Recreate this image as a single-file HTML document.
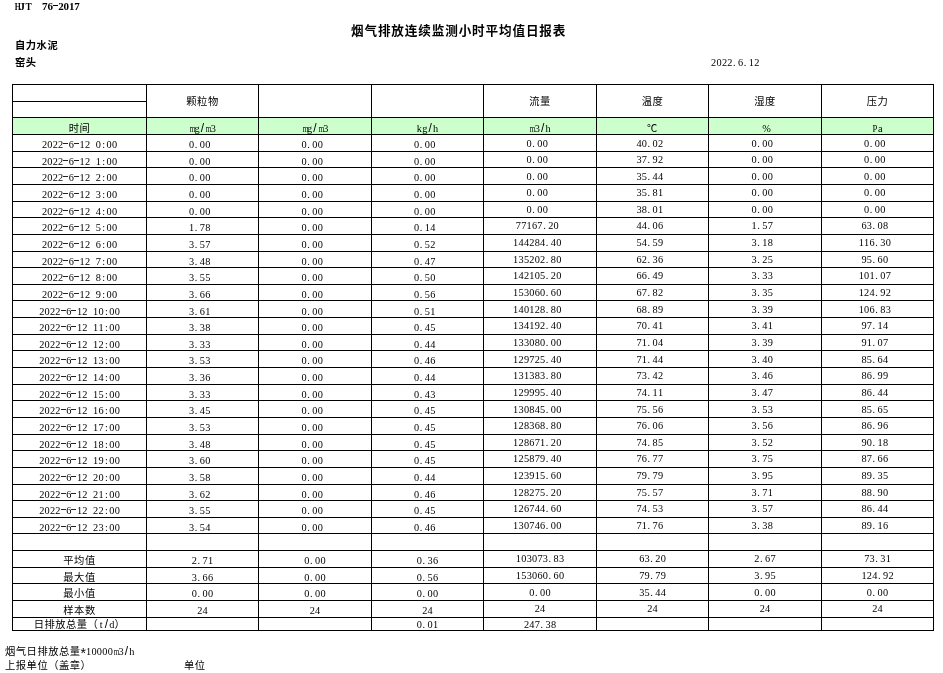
<!DOCTYPE html>
<html><head><meta charset="utf-8"><title>report</title><style>
*{margin:0;padding:0}
html,body{width:943px;height:673px;overflow:hidden;background:#fff}
body{position:relative;font-family:"Liberation Sans","Noto Sans CJK SC",sans-serif;font-size:10.3px;letter-spacing:0.5px;color:#000}
.h{position:absolute;height:1px;background:#000}
.v{position:absolute;width:1px;background:#000}
.g{position:absolute;background:#ccffcc}
.c{position:absolute;height:14px;line-height:14px;text-align:center;white-space:nowrap}
.f{position:absolute;height:14px;line-height:14px;white-space:nowrap}
b{display:inline-block;letter-spacing:0;width:5.4px;text-align:center;font-weight:inherit;font-family:"Liberation Serif",serif;font-size:10.3px}
b.l{font-family:"Liberation Serif",serif}
b.w{transform:scaleX(.7)}
b.n{transform:scaleX(.85)}
b.sl{font-family:"Liberation Sans",sans-serif;font-size:12px;line-height:8px}
b.p{text-align:left;text-indent:0.5px}
b.a{font-size:14px;line-height:8px;position:relative;top:3px;font-family:"Liberation Sans",sans-serif}
b.d{height:1px;width:4.9px;margin-right:0.5px;margin-bottom:4.5px;background:#222;vertical-align:baseline}
.b{font-weight:bold}
.s b{font-family:"Liberation Serif",serif;font-size:11px}
.s b.d{height:1px;margin-bottom:4px;background:#000}
.t{font-weight:bold;font-size:12.6px;letter-spacing:0.86px}
</style></head><body>
<div class="g" style="left:12px;top:117px;width:921px;height:17px"></div>
<div class="h" style="left:12px;top:84px;width:922px"></div>
<div class="h" style="left:12px;top:101px;width:135px"></div>
<div class="h" style="left:12px;top:117px;width:922px"></div>
<div class="h" style="left:12px;top:134px;width:922px"></div>
<div class="h" style="left:12px;top:151px;width:922px"></div>
<div class="h" style="left:12px;top:167px;width:922px"></div>
<div class="h" style="left:12px;top:184px;width:922px"></div>
<div class="h" style="left:12px;top:201px;width:922px"></div>
<div class="h" style="left:12px;top:217px;width:922px"></div>
<div class="h" style="left:12px;top:234px;width:922px"></div>
<div class="h" style="left:12px;top:251px;width:922px"></div>
<div class="h" style="left:12px;top:267px;width:922px"></div>
<div class="h" style="left:12px;top:284px;width:922px"></div>
<div class="h" style="left:12px;top:300px;width:922px"></div>
<div class="h" style="left:12px;top:317px;width:922px"></div>
<div class="h" style="left:12px;top:334px;width:922px"></div>
<div class="h" style="left:12px;top:350px;width:922px"></div>
<div class="h" style="left:12px;top:367px;width:922px"></div>
<div class="h" style="left:12px;top:384px;width:922px"></div>
<div class="h" style="left:12px;top:400px;width:922px"></div>
<div class="h" style="left:12px;top:417px;width:922px"></div>
<div class="h" style="left:12px;top:434px;width:922px"></div>
<div class="h" style="left:12px;top:450px;width:922px"></div>
<div class="h" style="left:12px;top:467px;width:922px"></div>
<div class="h" style="left:12px;top:484px;width:922px"></div>
<div class="h" style="left:12px;top:500px;width:922px"></div>
<div class="h" style="left:12px;top:517px;width:922px"></div>
<div class="h" style="left:12px;top:533px;width:922px"></div>
<div class="h" style="left:12px;top:550px;width:922px"></div>
<div class="h" style="left:12px;top:567px;width:922px"></div>
<div class="h" style="left:12px;top:583px;width:922px"></div>
<div class="h" style="left:12px;top:600px;width:922px"></div>
<div class="h" style="left:12px;top:617px;width:922px"></div>
<div class="h" style="left:12px;top:630px;width:922px"></div>
<div class="v" style="left:12px;top:84px;height:547px"></div>
<div class="v" style="left:146px;top:84px;height:547px"></div>
<div class="v" style="left:258px;top:84px;height:547px"></div>
<div class="v" style="left:371px;top:84px;height:547px"></div>
<div class="v" style="left:483px;top:84px;height:547px"></div>
<div class="v" style="left:596px;top:84px;height:547px"></div>
<div class="v" style="left:708px;top:84px;height:547px"></div>
<div class="v" style="left:821px;top:84px;height:547px"></div>
<div class="v" style="left:933px;top:84px;height:547px"></div>
<div class="c" style="left:147.00px;top:95px;width:111px">颗粒物</div>
<div class="c" style="left:484.00px;top:95px;width:112px">流量</div>
<div class="c" style="left:597.00px;top:95px;width:111px">温度</div>
<div class="c" style="left:709.00px;top:95px;width:112px">湿度</div>
<div class="c" style="left:822.00px;top:95px;width:111px">压力</div>
<div class="c" style="left:13.00px;top:122px;width:133px">时间</div>
<div class="c" style="left:147.00px;top:122px;width:111px"><b class="l w">m</b><b class="l">g</b><b class="sl">/</b><b class="l w">m</b><b>3</b></div>
<div class="c" style="left:259.00px;top:122px;width:112px"><b class="l w">m</b><b class="l">g</b><b class="sl">/</b><b class="l w">m</b><b>3</b></div>
<div class="c" style="left:372.00px;top:122px;width:111px"><b class="l">k</b><b class="l">g</b><b class="sl">/</b><b class="l">h</b></div>
<div class="c" style="left:484.00px;top:122px;width:112px"><b class="l w">m</b><b>3</b><b class="sl">/</b><b class="l">h</b></div>
<div class="c" style="left:597.00px;top:122px;width:111px">℃</div>
<div class="c" style="left:709.00px;top:122px;width:112px"><b class="l">%</b></div>
<div class="c" style="left:822.00px;top:122px;width:111px"><b class="l n">P</b><b class="l">a</b></div>
<div class="c" style="left:13.00px;top:138px;width:133px"><b>2</b><b>0</b><b>2</b><b>2</b><b class="d"></b><b>6</b><b class="d"></b><b>1</b><b>2</b><b> </b><b>0</b><b>:</b><b>0</b><b>0</b></div>
<div class="c" style="left:144.25px;top:138px;width:111px"><b>0</b><b class="p">.</b><b>0</b><b>0</b></div>
<div class="c" style="left:256.25px;top:138px;width:112px"><b>0</b><b class="p">.</b><b>0</b><b>0</b></div>
<div class="c" style="left:369.25px;top:138px;width:111px"><b>0</b><b class="p">.</b><b>0</b><b>0</b></div>
<div class="c" style="left:481.25px;top:137px;width:112px"><b>0</b><b class="p">.</b><b>0</b><b>0</b></div>
<div class="c" style="left:594.25px;top:137px;width:111px"><b>4</b><b>0</b><b class="p">.</b><b>0</b><b>2</b></div>
<div class="c" style="left:706.25px;top:137px;width:112px"><b>0</b><b class="p">.</b><b>0</b><b>0</b></div>
<div class="c" style="left:819.25px;top:137px;width:111px"><b>0</b><b class="p">.</b><b>0</b><b>0</b></div>
<div class="c" style="left:13.00px;top:155px;width:133px"><b>2</b><b>0</b><b>2</b><b>2</b><b class="d"></b><b>6</b><b class="d"></b><b>1</b><b>2</b><b> </b><b>1</b><b>:</b><b>0</b><b>0</b></div>
<div class="c" style="left:144.25px;top:155px;width:111px"><b>0</b><b class="p">.</b><b>0</b><b>0</b></div>
<div class="c" style="left:256.25px;top:155px;width:112px"><b>0</b><b class="p">.</b><b>0</b><b>0</b></div>
<div class="c" style="left:369.25px;top:155px;width:111px"><b>0</b><b class="p">.</b><b>0</b><b>0</b></div>
<div class="c" style="left:481.25px;top:153px;width:112px"><b>0</b><b class="p">.</b><b>0</b><b>0</b></div>
<div class="c" style="left:594.25px;top:153px;width:111px"><b>3</b><b>7</b><b class="p">.</b><b>9</b><b>2</b></div>
<div class="c" style="left:706.25px;top:153px;width:112px"><b>0</b><b class="p">.</b><b>0</b><b>0</b></div>
<div class="c" style="left:819.25px;top:153px;width:111px"><b>0</b><b class="p">.</b><b>0</b><b>0</b></div>
<div class="c" style="left:13.00px;top:171px;width:133px"><b>2</b><b>0</b><b>2</b><b>2</b><b class="d"></b><b>6</b><b class="d"></b><b>1</b><b>2</b><b> </b><b>2</b><b>:</b><b>0</b><b>0</b></div>
<div class="c" style="left:144.25px;top:171px;width:111px"><b>0</b><b class="p">.</b><b>0</b><b>0</b></div>
<div class="c" style="left:256.25px;top:171px;width:112px"><b>0</b><b class="p">.</b><b>0</b><b>0</b></div>
<div class="c" style="left:369.25px;top:171px;width:111px"><b>0</b><b class="p">.</b><b>0</b><b>0</b></div>
<div class="c" style="left:481.25px;top:170px;width:112px"><b>0</b><b class="p">.</b><b>0</b><b>0</b></div>
<div class="c" style="left:594.25px;top:170px;width:111px"><b>3</b><b>5</b><b class="p">.</b><b>4</b><b>4</b></div>
<div class="c" style="left:706.25px;top:170px;width:112px"><b>0</b><b class="p">.</b><b>0</b><b>0</b></div>
<div class="c" style="left:819.25px;top:170px;width:111px"><b>0</b><b class="p">.</b><b>0</b><b>0</b></div>
<div class="c" style="left:13.00px;top:188px;width:133px"><b>2</b><b>0</b><b>2</b><b>2</b><b class="d"></b><b>6</b><b class="d"></b><b>1</b><b>2</b><b> </b><b>3</b><b>:</b><b>0</b><b>0</b></div>
<div class="c" style="left:144.25px;top:188px;width:111px"><b>0</b><b class="p">.</b><b>0</b><b>0</b></div>
<div class="c" style="left:256.25px;top:188px;width:112px"><b>0</b><b class="p">.</b><b>0</b><b>0</b></div>
<div class="c" style="left:369.25px;top:188px;width:111px"><b>0</b><b class="p">.</b><b>0</b><b>0</b></div>
<div class="c" style="left:481.25px;top:186px;width:112px"><b>0</b><b class="p">.</b><b>0</b><b>0</b></div>
<div class="c" style="left:594.25px;top:186px;width:111px"><b>3</b><b>5</b><b class="p">.</b><b>8</b><b>1</b></div>
<div class="c" style="left:706.25px;top:186px;width:112px"><b>0</b><b class="p">.</b><b>0</b><b>0</b></div>
<div class="c" style="left:819.25px;top:186px;width:111px"><b>0</b><b class="p">.</b><b>0</b><b>0</b></div>
<div class="c" style="left:13.00px;top:205px;width:133px"><b>2</b><b>0</b><b>2</b><b>2</b><b class="d"></b><b>6</b><b class="d"></b><b>1</b><b>2</b><b> </b><b>4</b><b>:</b><b>0</b><b>0</b></div>
<div class="c" style="left:144.25px;top:205px;width:111px"><b>0</b><b class="p">.</b><b>0</b><b>0</b></div>
<div class="c" style="left:256.25px;top:205px;width:112px"><b>0</b><b class="p">.</b><b>0</b><b>0</b></div>
<div class="c" style="left:369.25px;top:205px;width:111px"><b>0</b><b class="p">.</b><b>0</b><b>0</b></div>
<div class="c" style="left:481.25px;top:203px;width:112px"><b>0</b><b class="p">.</b><b>0</b><b>0</b></div>
<div class="c" style="left:594.25px;top:203px;width:111px"><b>3</b><b>8</b><b class="p">.</b><b>0</b><b>1</b></div>
<div class="c" style="left:706.25px;top:203px;width:112px"><b>0</b><b class="p">.</b><b>0</b><b>0</b></div>
<div class="c" style="left:819.25px;top:203px;width:111px"><b>0</b><b class="p">.</b><b>0</b><b>0</b></div>
<div class="c" style="left:13.00px;top:221px;width:133px"><b>2</b><b>0</b><b>2</b><b>2</b><b class="d"></b><b>6</b><b class="d"></b><b>1</b><b>2</b><b> </b><b>5</b><b>:</b><b>0</b><b>0</b></div>
<div class="c" style="left:144.25px;top:221px;width:111px"><b>1</b><b class="p">.</b><b>7</b><b>8</b></div>
<div class="c" style="left:256.25px;top:221px;width:112px"><b>0</b><b class="p">.</b><b>0</b><b>0</b></div>
<div class="c" style="left:369.25px;top:221px;width:111px"><b>0</b><b class="p">.</b><b>1</b><b>4</b></div>
<div class="c" style="left:481.25px;top:219px;width:112px"><b>7</b><b>7</b><b>1</b><b>6</b><b>7</b><b class="p">.</b><b>2</b><b>0</b></div>
<div class="c" style="left:594.25px;top:219px;width:111px"><b>4</b><b>4</b><b class="p">.</b><b>0</b><b>6</b></div>
<div class="c" style="left:706.25px;top:219px;width:112px"><b>1</b><b class="p">.</b><b>5</b><b>7</b></div>
<div class="c" style="left:819.25px;top:219px;width:111px"><b>6</b><b>3</b><b class="p">.</b><b>0</b><b>8</b></div>
<div class="c" style="left:13.00px;top:238px;width:133px"><b>2</b><b>0</b><b>2</b><b>2</b><b class="d"></b><b>6</b><b class="d"></b><b>1</b><b>2</b><b> </b><b>6</b><b>:</b><b>0</b><b>0</b></div>
<div class="c" style="left:144.25px;top:238px;width:111px"><b>3</b><b class="p">.</b><b>5</b><b>7</b></div>
<div class="c" style="left:256.25px;top:238px;width:112px"><b>0</b><b class="p">.</b><b>0</b><b>0</b></div>
<div class="c" style="left:369.25px;top:238px;width:111px"><b>0</b><b class="p">.</b><b>5</b><b>2</b></div>
<div class="c" style="left:481.25px;top:236px;width:112px"><b>1</b><b>4</b><b>4</b><b>2</b><b>8</b><b>4</b><b class="p">.</b><b>4</b><b>0</b></div>
<div class="c" style="left:594.25px;top:236px;width:111px"><b>5</b><b>4</b><b class="p">.</b><b>5</b><b>9</b></div>
<div class="c" style="left:706.25px;top:236px;width:112px"><b>3</b><b class="p">.</b><b>1</b><b>8</b></div>
<div class="c" style="left:819.25px;top:236px;width:111px"><b>1</b><b>1</b><b>6</b><b class="p">.</b><b>3</b><b>0</b></div>
<div class="c" style="left:13.00px;top:255px;width:133px"><b>2</b><b>0</b><b>2</b><b>2</b><b class="d"></b><b>6</b><b class="d"></b><b>1</b><b>2</b><b> </b><b>7</b><b>:</b><b>0</b><b>0</b></div>
<div class="c" style="left:144.25px;top:255px;width:111px"><b>3</b><b class="p">.</b><b>4</b><b>8</b></div>
<div class="c" style="left:256.25px;top:255px;width:112px"><b>0</b><b class="p">.</b><b>0</b><b>0</b></div>
<div class="c" style="left:369.25px;top:255px;width:111px"><b>0</b><b class="p">.</b><b>4</b><b>7</b></div>
<div class="c" style="left:481.25px;top:253px;width:112px"><b>1</b><b>3</b><b>5</b><b>2</b><b>0</b><b>2</b><b class="p">.</b><b>8</b><b>0</b></div>
<div class="c" style="left:594.25px;top:253px;width:111px"><b>6</b><b>2</b><b class="p">.</b><b>3</b><b>6</b></div>
<div class="c" style="left:706.25px;top:253px;width:112px"><b>3</b><b class="p">.</b><b>2</b><b>5</b></div>
<div class="c" style="left:819.25px;top:253px;width:111px"><b>9</b><b>5</b><b class="p">.</b><b>6</b><b>0</b></div>
<div class="c" style="left:13.00px;top:271px;width:133px"><b>2</b><b>0</b><b>2</b><b>2</b><b class="d"></b><b>6</b><b class="d"></b><b>1</b><b>2</b><b> </b><b>8</b><b>:</b><b>0</b><b>0</b></div>
<div class="c" style="left:144.25px;top:271px;width:111px"><b>3</b><b class="p">.</b><b>5</b><b>5</b></div>
<div class="c" style="left:256.25px;top:271px;width:112px"><b>0</b><b class="p">.</b><b>0</b><b>0</b></div>
<div class="c" style="left:369.25px;top:271px;width:111px"><b>0</b><b class="p">.</b><b>5</b><b>0</b></div>
<div class="c" style="left:481.25px;top:269px;width:112px"><b>1</b><b>4</b><b>2</b><b>1</b><b>0</b><b>5</b><b class="p">.</b><b>2</b><b>0</b></div>
<div class="c" style="left:594.25px;top:269px;width:111px"><b>6</b><b>6</b><b class="p">.</b><b>4</b><b>9</b></div>
<div class="c" style="left:706.25px;top:269px;width:112px"><b>3</b><b class="p">.</b><b>3</b><b>3</b></div>
<div class="c" style="left:819.25px;top:269px;width:111px"><b>1</b><b>0</b><b>1</b><b class="p">.</b><b>0</b><b>7</b></div>
<div class="c" style="left:13.00px;top:288px;width:133px"><b>2</b><b>0</b><b>2</b><b>2</b><b class="d"></b><b>6</b><b class="d"></b><b>1</b><b>2</b><b> </b><b>9</b><b>:</b><b>0</b><b>0</b></div>
<div class="c" style="left:144.25px;top:288px;width:111px"><b>3</b><b class="p">.</b><b>6</b><b>6</b></div>
<div class="c" style="left:256.25px;top:288px;width:112px"><b>0</b><b class="p">.</b><b>0</b><b>0</b></div>
<div class="c" style="left:369.25px;top:288px;width:111px"><b>0</b><b class="p">.</b><b>5</b><b>6</b></div>
<div class="c" style="left:481.25px;top:286px;width:112px"><b>1</b><b>5</b><b>3</b><b>0</b><b>6</b><b>0</b><b class="p">.</b><b>6</b><b>0</b></div>
<div class="c" style="left:594.25px;top:286px;width:111px"><b>6</b><b>7</b><b class="p">.</b><b>8</b><b>2</b></div>
<div class="c" style="left:706.25px;top:286px;width:112px"><b>3</b><b class="p">.</b><b>3</b><b>5</b></div>
<div class="c" style="left:819.25px;top:286px;width:111px"><b>1</b><b>2</b><b>4</b><b class="p">.</b><b>9</b><b>2</b></div>
<div class="c" style="left:13.00px;top:305px;width:133px"><b>2</b><b>0</b><b>2</b><b>2</b><b class="d"></b><b>6</b><b class="d"></b><b>1</b><b>2</b><b> </b><b>1</b><b>0</b><b>:</b><b>0</b><b>0</b></div>
<div class="c" style="left:144.25px;top:305px;width:111px"><b>3</b><b class="p">.</b><b>6</b><b>1</b></div>
<div class="c" style="left:256.25px;top:305px;width:112px"><b>0</b><b class="p">.</b><b>0</b><b>0</b></div>
<div class="c" style="left:369.25px;top:305px;width:111px"><b>0</b><b class="p">.</b><b>5</b><b>1</b></div>
<div class="c" style="left:481.25px;top:303px;width:112px"><b>1</b><b>4</b><b>0</b><b>1</b><b>2</b><b>8</b><b class="p">.</b><b>8</b><b>0</b></div>
<div class="c" style="left:594.25px;top:303px;width:111px"><b>6</b><b>8</b><b class="p">.</b><b>8</b><b>9</b></div>
<div class="c" style="left:706.25px;top:303px;width:112px"><b>3</b><b class="p">.</b><b>3</b><b>9</b></div>
<div class="c" style="left:819.25px;top:303px;width:111px"><b>1</b><b>0</b><b>6</b><b class="p">.</b><b>8</b><b>3</b></div>
<div class="c" style="left:13.00px;top:321px;width:133px"><b>2</b><b>0</b><b>2</b><b>2</b><b class="d"></b><b>6</b><b class="d"></b><b>1</b><b>2</b><b> </b><b>1</b><b>1</b><b>:</b><b>0</b><b>0</b></div>
<div class="c" style="left:144.25px;top:321px;width:111px"><b>3</b><b class="p">.</b><b>3</b><b>8</b></div>
<div class="c" style="left:256.25px;top:321px;width:112px"><b>0</b><b class="p">.</b><b>0</b><b>0</b></div>
<div class="c" style="left:369.25px;top:321px;width:111px"><b>0</b><b class="p">.</b><b>4</b><b>5</b></div>
<div class="c" style="left:481.25px;top:319px;width:112px"><b>1</b><b>3</b><b>4</b><b>1</b><b>9</b><b>2</b><b class="p">.</b><b>4</b><b>0</b></div>
<div class="c" style="left:594.25px;top:319px;width:111px"><b>7</b><b>0</b><b class="p">.</b><b>4</b><b>1</b></div>
<div class="c" style="left:706.25px;top:319px;width:112px"><b>3</b><b class="p">.</b><b>4</b><b>1</b></div>
<div class="c" style="left:819.25px;top:319px;width:111px"><b>9</b><b>7</b><b class="p">.</b><b>1</b><b>4</b></div>
<div class="c" style="left:13.00px;top:338px;width:133px"><b>2</b><b>0</b><b>2</b><b>2</b><b class="d"></b><b>6</b><b class="d"></b><b>1</b><b>2</b><b> </b><b>1</b><b>2</b><b>:</b><b>0</b><b>0</b></div>
<div class="c" style="left:144.25px;top:338px;width:111px"><b>3</b><b class="p">.</b><b>3</b><b>3</b></div>
<div class="c" style="left:256.25px;top:338px;width:112px"><b>0</b><b class="p">.</b><b>0</b><b>0</b></div>
<div class="c" style="left:369.25px;top:338px;width:111px"><b>0</b><b class="p">.</b><b>4</b><b>4</b></div>
<div class="c" style="left:481.25px;top:336px;width:112px"><b>1</b><b>3</b><b>3</b><b>0</b><b>8</b><b>0</b><b class="p">.</b><b>0</b><b>0</b></div>
<div class="c" style="left:594.25px;top:336px;width:111px"><b>7</b><b>1</b><b class="p">.</b><b>0</b><b>4</b></div>
<div class="c" style="left:706.25px;top:336px;width:112px"><b>3</b><b class="p">.</b><b>3</b><b>9</b></div>
<div class="c" style="left:819.25px;top:336px;width:111px"><b>9</b><b>1</b><b class="p">.</b><b>0</b><b>7</b></div>
<div class="c" style="left:13.00px;top:354px;width:133px"><b>2</b><b>0</b><b>2</b><b>2</b><b class="d"></b><b>6</b><b class="d"></b><b>1</b><b>2</b><b> </b><b>1</b><b>3</b><b>:</b><b>0</b><b>0</b></div>
<div class="c" style="left:144.25px;top:354px;width:111px"><b>3</b><b class="p">.</b><b>5</b><b>3</b></div>
<div class="c" style="left:256.25px;top:354px;width:112px"><b>0</b><b class="p">.</b><b>0</b><b>0</b></div>
<div class="c" style="left:369.25px;top:354px;width:111px"><b>0</b><b class="p">.</b><b>4</b><b>6</b></div>
<div class="c" style="left:481.25px;top:353px;width:112px"><b>1</b><b>2</b><b>9</b><b>7</b><b>2</b><b>5</b><b class="p">.</b><b>4</b><b>0</b></div>
<div class="c" style="left:594.25px;top:353px;width:111px"><b>7</b><b>1</b><b class="p">.</b><b>4</b><b>4</b></div>
<div class="c" style="left:706.25px;top:353px;width:112px"><b>3</b><b class="p">.</b><b>4</b><b>0</b></div>
<div class="c" style="left:819.25px;top:353px;width:111px"><b>8</b><b>5</b><b class="p">.</b><b>6</b><b>4</b></div>
<div class="c" style="left:13.00px;top:371px;width:133px"><b>2</b><b>0</b><b>2</b><b>2</b><b class="d"></b><b>6</b><b class="d"></b><b>1</b><b>2</b><b> </b><b>1</b><b>4</b><b>:</b><b>0</b><b>0</b></div>
<div class="c" style="left:144.25px;top:371px;width:111px"><b>3</b><b class="p">.</b><b>3</b><b>6</b></div>
<div class="c" style="left:256.25px;top:371px;width:112px"><b>0</b><b class="p">.</b><b>0</b><b>0</b></div>
<div class="c" style="left:369.25px;top:371px;width:111px"><b>0</b><b class="p">.</b><b>4</b><b>4</b></div>
<div class="c" style="left:481.25px;top:369px;width:112px"><b>1</b><b>3</b><b>1</b><b>3</b><b>8</b><b>3</b><b class="p">.</b><b>8</b><b>0</b></div>
<div class="c" style="left:594.25px;top:369px;width:111px"><b>7</b><b>3</b><b class="p">.</b><b>4</b><b>2</b></div>
<div class="c" style="left:706.25px;top:369px;width:112px"><b>3</b><b class="p">.</b><b>4</b><b>6</b></div>
<div class="c" style="left:819.25px;top:369px;width:111px"><b>8</b><b>6</b><b class="p">.</b><b>9</b><b>9</b></div>
<div class="c" style="left:13.00px;top:388px;width:133px"><b>2</b><b>0</b><b>2</b><b>2</b><b class="d"></b><b>6</b><b class="d"></b><b>1</b><b>2</b><b> </b><b>1</b><b>5</b><b>:</b><b>0</b><b>0</b></div>
<div class="c" style="left:144.25px;top:388px;width:111px"><b>3</b><b class="p">.</b><b>3</b><b>3</b></div>
<div class="c" style="left:256.25px;top:388px;width:112px"><b>0</b><b class="p">.</b><b>0</b><b>0</b></div>
<div class="c" style="left:369.25px;top:388px;width:111px"><b>0</b><b class="p">.</b><b>4</b><b>3</b></div>
<div class="c" style="left:481.25px;top:386px;width:112px"><b>1</b><b>2</b><b>9</b><b>9</b><b>9</b><b>5</b><b class="p">.</b><b>4</b><b>0</b></div>
<div class="c" style="left:594.25px;top:386px;width:111px"><b>7</b><b>4</b><b class="p">.</b><b>1</b><b>1</b></div>
<div class="c" style="left:706.25px;top:386px;width:112px"><b>3</b><b class="p">.</b><b>4</b><b>7</b></div>
<div class="c" style="left:819.25px;top:386px;width:111px"><b>8</b><b>6</b><b class="p">.</b><b>4</b><b>4</b></div>
<div class="c" style="left:13.00px;top:404px;width:133px"><b>2</b><b>0</b><b>2</b><b>2</b><b class="d"></b><b>6</b><b class="d"></b><b>1</b><b>2</b><b> </b><b>1</b><b>6</b><b>:</b><b>0</b><b>0</b></div>
<div class="c" style="left:144.25px;top:404px;width:111px"><b>3</b><b class="p">.</b><b>4</b><b>5</b></div>
<div class="c" style="left:256.25px;top:404px;width:112px"><b>0</b><b class="p">.</b><b>0</b><b>0</b></div>
<div class="c" style="left:369.25px;top:404px;width:111px"><b>0</b><b class="p">.</b><b>4</b><b>5</b></div>
<div class="c" style="left:481.25px;top:403px;width:112px"><b>1</b><b>3</b><b>0</b><b>8</b><b>4</b><b>5</b><b class="p">.</b><b>0</b><b>0</b></div>
<div class="c" style="left:594.25px;top:403px;width:111px"><b>7</b><b>5</b><b class="p">.</b><b>5</b><b>6</b></div>
<div class="c" style="left:706.25px;top:403px;width:112px"><b>3</b><b class="p">.</b><b>5</b><b>3</b></div>
<div class="c" style="left:819.25px;top:403px;width:111px"><b>8</b><b>5</b><b class="p">.</b><b>6</b><b>5</b></div>
<div class="c" style="left:13.00px;top:421px;width:133px"><b>2</b><b>0</b><b>2</b><b>2</b><b class="d"></b><b>6</b><b class="d"></b><b>1</b><b>2</b><b> </b><b>1</b><b>7</b><b>:</b><b>0</b><b>0</b></div>
<div class="c" style="left:144.25px;top:421px;width:111px"><b>3</b><b class="p">.</b><b>5</b><b>3</b></div>
<div class="c" style="left:256.25px;top:421px;width:112px"><b>0</b><b class="p">.</b><b>0</b><b>0</b></div>
<div class="c" style="left:369.25px;top:421px;width:111px"><b>0</b><b class="p">.</b><b>4</b><b>5</b></div>
<div class="c" style="left:481.25px;top:419px;width:112px"><b>1</b><b>2</b><b>8</b><b>3</b><b>6</b><b>8</b><b class="p">.</b><b>8</b><b>0</b></div>
<div class="c" style="left:594.25px;top:419px;width:111px"><b>7</b><b>6</b><b class="p">.</b><b>0</b><b>6</b></div>
<div class="c" style="left:706.25px;top:419px;width:112px"><b>3</b><b class="p">.</b><b>5</b><b>6</b></div>
<div class="c" style="left:819.25px;top:419px;width:111px"><b>8</b><b>6</b><b class="p">.</b><b>9</b><b>6</b></div>
<div class="c" style="left:13.00px;top:438px;width:133px"><b>2</b><b>0</b><b>2</b><b>2</b><b class="d"></b><b>6</b><b class="d"></b><b>1</b><b>2</b><b> </b><b>1</b><b>8</b><b>:</b><b>0</b><b>0</b></div>
<div class="c" style="left:144.25px;top:438px;width:111px"><b>3</b><b class="p">.</b><b>4</b><b>8</b></div>
<div class="c" style="left:256.25px;top:438px;width:112px"><b>0</b><b class="p">.</b><b>0</b><b>0</b></div>
<div class="c" style="left:369.25px;top:438px;width:111px"><b>0</b><b class="p">.</b><b>4</b><b>5</b></div>
<div class="c" style="left:481.25px;top:436px;width:112px"><b>1</b><b>2</b><b>8</b><b>6</b><b>7</b><b>1</b><b class="p">.</b><b>2</b><b>0</b></div>
<div class="c" style="left:594.25px;top:436px;width:111px"><b>7</b><b>4</b><b class="p">.</b><b>8</b><b>5</b></div>
<div class="c" style="left:706.25px;top:436px;width:112px"><b>3</b><b class="p">.</b><b>5</b><b>2</b></div>
<div class="c" style="left:819.25px;top:436px;width:111px"><b>9</b><b>0</b><b class="p">.</b><b>1</b><b>8</b></div>
<div class="c" style="left:13.00px;top:454px;width:133px"><b>2</b><b>0</b><b>2</b><b>2</b><b class="d"></b><b>6</b><b class="d"></b><b>1</b><b>2</b><b> </b><b>1</b><b>9</b><b>:</b><b>0</b><b>0</b></div>
<div class="c" style="left:144.25px;top:454px;width:111px"><b>3</b><b class="p">.</b><b>6</b><b>0</b></div>
<div class="c" style="left:256.25px;top:454px;width:112px"><b>0</b><b class="p">.</b><b>0</b><b>0</b></div>
<div class="c" style="left:369.25px;top:454px;width:111px"><b>0</b><b class="p">.</b><b>4</b><b>5</b></div>
<div class="c" style="left:481.25px;top:452px;width:112px"><b>1</b><b>2</b><b>5</b><b>8</b><b>7</b><b>9</b><b class="p">.</b><b>4</b><b>0</b></div>
<div class="c" style="left:594.25px;top:452px;width:111px"><b>7</b><b>6</b><b class="p">.</b><b>7</b><b>7</b></div>
<div class="c" style="left:706.25px;top:452px;width:112px"><b>3</b><b class="p">.</b><b>7</b><b>5</b></div>
<div class="c" style="left:819.25px;top:452px;width:111px"><b>8</b><b>7</b><b class="p">.</b><b>6</b><b>6</b></div>
<div class="c" style="left:13.00px;top:471px;width:133px"><b>2</b><b>0</b><b>2</b><b>2</b><b class="d"></b><b>6</b><b class="d"></b><b>1</b><b>2</b><b> </b><b>2</b><b>0</b><b>:</b><b>0</b><b>0</b></div>
<div class="c" style="left:144.25px;top:471px;width:111px"><b>3</b><b class="p">.</b><b>5</b><b>8</b></div>
<div class="c" style="left:256.25px;top:471px;width:112px"><b>0</b><b class="p">.</b><b>0</b><b>0</b></div>
<div class="c" style="left:369.25px;top:471px;width:111px"><b>0</b><b class="p">.</b><b>4</b><b>4</b></div>
<div class="c" style="left:481.25px;top:469px;width:112px"><b>1</b><b>2</b><b>3</b><b>9</b><b>1</b><b>5</b><b class="p">.</b><b>6</b><b>0</b></div>
<div class="c" style="left:594.25px;top:469px;width:111px"><b>7</b><b>9</b><b class="p">.</b><b>7</b><b>9</b></div>
<div class="c" style="left:706.25px;top:469px;width:112px"><b>3</b><b class="p">.</b><b>9</b><b>5</b></div>
<div class="c" style="left:819.25px;top:469px;width:111px"><b>8</b><b>9</b><b class="p">.</b><b>3</b><b>5</b></div>
<div class="c" style="left:13.00px;top:488px;width:133px"><b>2</b><b>0</b><b>2</b><b>2</b><b class="d"></b><b>6</b><b class="d"></b><b>1</b><b>2</b><b> </b><b>2</b><b>1</b><b>:</b><b>0</b><b>0</b></div>
<div class="c" style="left:144.25px;top:488px;width:111px"><b>3</b><b class="p">.</b><b>6</b><b>2</b></div>
<div class="c" style="left:256.25px;top:488px;width:112px"><b>0</b><b class="p">.</b><b>0</b><b>0</b></div>
<div class="c" style="left:369.25px;top:488px;width:111px"><b>0</b><b class="p">.</b><b>4</b><b>6</b></div>
<div class="c" style="left:481.25px;top:486px;width:112px"><b>1</b><b>2</b><b>8</b><b>2</b><b>7</b><b>5</b><b class="p">.</b><b>2</b><b>0</b></div>
<div class="c" style="left:594.25px;top:486px;width:111px"><b>7</b><b>5</b><b class="p">.</b><b>5</b><b>7</b></div>
<div class="c" style="left:706.25px;top:486px;width:112px"><b>3</b><b class="p">.</b><b>7</b><b>1</b></div>
<div class="c" style="left:819.25px;top:486px;width:111px"><b>8</b><b>8</b><b class="p">.</b><b>9</b><b>0</b></div>
<div class="c" style="left:13.00px;top:504px;width:133px"><b>2</b><b>0</b><b>2</b><b>2</b><b class="d"></b><b>6</b><b class="d"></b><b>1</b><b>2</b><b> </b><b>2</b><b>2</b><b>:</b><b>0</b><b>0</b></div>
<div class="c" style="left:144.25px;top:504px;width:111px"><b>3</b><b class="p">.</b><b>5</b><b>5</b></div>
<div class="c" style="left:256.25px;top:504px;width:112px"><b>0</b><b class="p">.</b><b>0</b><b>0</b></div>
<div class="c" style="left:369.25px;top:504px;width:111px"><b>0</b><b class="p">.</b><b>4</b><b>5</b></div>
<div class="c" style="left:481.25px;top:502px;width:112px"><b>1</b><b>2</b><b>6</b><b>7</b><b>4</b><b>4</b><b class="p">.</b><b>6</b><b>0</b></div>
<div class="c" style="left:594.25px;top:502px;width:111px"><b>7</b><b>4</b><b class="p">.</b><b>5</b><b>3</b></div>
<div class="c" style="left:706.25px;top:502px;width:112px"><b>3</b><b class="p">.</b><b>5</b><b>7</b></div>
<div class="c" style="left:819.25px;top:502px;width:111px"><b>8</b><b>6</b><b class="p">.</b><b>4</b><b>4</b></div>
<div class="c" style="left:13.00px;top:521px;width:133px"><b>2</b><b>0</b><b>2</b><b>2</b><b class="d"></b><b>6</b><b class="d"></b><b>1</b><b>2</b><b> </b><b>2</b><b>3</b><b>:</b><b>0</b><b>0</b></div>
<div class="c" style="left:144.25px;top:521px;width:111px"><b>3</b><b class="p">.</b><b>5</b><b>4</b></div>
<div class="c" style="left:256.25px;top:521px;width:112px"><b>0</b><b class="p">.</b><b>0</b><b>0</b></div>
<div class="c" style="left:369.25px;top:521px;width:111px"><b>0</b><b class="p">.</b><b>4</b><b>6</b></div>
<div class="c" style="left:481.25px;top:519px;width:112px"><b>1</b><b>3</b><b>0</b><b>7</b><b>4</b><b>6</b><b class="p">.</b><b>0</b><b>0</b></div>
<div class="c" style="left:594.25px;top:519px;width:111px"><b>7</b><b>1</b><b class="p">.</b><b>7</b><b>6</b></div>
<div class="c" style="left:706.25px;top:519px;width:112px"><b>3</b><b class="p">.</b><b>3</b><b>8</b></div>
<div class="c" style="left:819.25px;top:519px;width:111px"><b>8</b><b>9</b><b class="p">.</b><b>1</b><b>6</b></div>
<div class="c" style="left:13.00px;top:554px;width:133px">平均值</div>
<div class="c" style="left:147.00px;top:554px;width:111px"><b>2</b><b class="p">.</b><b>7</b><b>1</b></div>
<div class="c" style="left:259.00px;top:554px;width:112px"><b>0</b><b class="p">.</b><b>0</b><b>0</b></div>
<div class="c" style="left:372.00px;top:554px;width:111px"><b>0</b><b class="p">.</b><b>3</b><b>6</b></div>
<div class="c" style="left:484.00px;top:552px;width:112px"><b>1</b><b>0</b><b>3</b><b>0</b><b>7</b><b>3</b><b class="p">.</b><b>8</b><b>3</b></div>
<div class="c" style="left:597.00px;top:552px;width:111px"><b>6</b><b>3</b><b class="p">.</b><b>2</b><b>0</b></div>
<div class="c" style="left:709.00px;top:552px;width:112px"><b>2</b><b class="p">.</b><b>6</b><b>7</b></div>
<div class="c" style="left:822.00px;top:552px;width:111px"><b>7</b><b>3</b><b class="p">.</b><b>3</b><b>1</b></div>
<div class="c" style="left:13.00px;top:571px;width:133px">最大值</div>
<div class="c" style="left:147.00px;top:571px;width:111px"><b>3</b><b class="p">.</b><b>6</b><b>6</b></div>
<div class="c" style="left:259.00px;top:571px;width:112px"><b>0</b><b class="p">.</b><b>0</b><b>0</b></div>
<div class="c" style="left:372.00px;top:571px;width:111px"><b>0</b><b class="p">.</b><b>5</b><b>6</b></div>
<div class="c" style="left:484.00px;top:569px;width:112px"><b>1</b><b>5</b><b>3</b><b>0</b><b>6</b><b>0</b><b class="p">.</b><b>6</b><b>0</b></div>
<div class="c" style="left:597.00px;top:569px;width:111px"><b>7</b><b>9</b><b class="p">.</b><b>7</b><b>9</b></div>
<div class="c" style="left:709.00px;top:569px;width:112px"><b>3</b><b class="p">.</b><b>9</b><b>5</b></div>
<div class="c" style="left:822.00px;top:569px;width:111px"><b>1</b><b>2</b><b>4</b><b class="p">.</b><b>9</b><b>2</b></div>
<div class="c" style="left:13.00px;top:587px;width:133px">最小值</div>
<div class="c" style="left:147.00px;top:587px;width:111px"><b>0</b><b class="p">.</b><b>0</b><b>0</b></div>
<div class="c" style="left:259.00px;top:587px;width:112px"><b>0</b><b class="p">.</b><b>0</b><b>0</b></div>
<div class="c" style="left:372.00px;top:587px;width:111px"><b>0</b><b class="p">.</b><b>0</b><b>0</b></div>
<div class="c" style="left:484.00px;top:586px;width:112px"><b>0</b><b class="p">.</b><b>0</b><b>0</b></div>
<div class="c" style="left:597.00px;top:586px;width:111px"><b>3</b><b>5</b><b class="p">.</b><b>4</b><b>4</b></div>
<div class="c" style="left:709.00px;top:586px;width:112px"><b>0</b><b class="p">.</b><b>0</b><b>0</b></div>
<div class="c" style="left:822.00px;top:586px;width:111px"><b>0</b><b class="p">.</b><b>0</b><b>0</b></div>
<div class="c" style="left:13.00px;top:604px;width:133px">样本数</div>
<div class="c" style="left:147.00px;top:604px;width:111px"><b>2</b><b>4</b></div>
<div class="c" style="left:259.00px;top:604px;width:112px"><b>2</b><b>4</b></div>
<div class="c" style="left:372.00px;top:604px;width:111px"><b>2</b><b>4</b></div>
<div class="c" style="left:484.00px;top:602px;width:112px"><b>2</b><b>4</b></div>
<div class="c" style="left:597.00px;top:602px;width:111px"><b>2</b><b>4</b></div>
<div class="c" style="left:709.00px;top:602px;width:112px"><b>2</b><b>4</b></div>
<div class="c" style="left:822.00px;top:602px;width:111px"><b>2</b><b>4</b></div>
<div class="c" style="left:13.00px;top:618px;width:133px">日排放总量（<b class="l">t</b><b class="sl">/</b><b class="l">d</b>）</div>
<div class="c" style="left:372.00px;top:618px;width:111px"><b>0</b><b class="p">.</b><b>0</b><b>1</b></div>
<div class="c" style="left:484.00px;top:618px;width:112px"><b>2</b><b>4</b><b>7</b><b class="p">.</b><b>3</b><b>8</b></div>
<div class="f b s" style="left:14px;top:-1px"><b class="l w">H</b><b class="l">J</b><b class="l n">T</b></div>
<div class="f b s" style="left:42px;top:-1px"><b>7</b><b>6</b><b class="d"></b><b>2</b><b>0</b><b>1</b><b>7</b></div>
<div class="f t" style="left:351px;top:24px">烟气排放连续监测小时平均值日报表</div>
<div class="f b" style="left:15px;top:39px">自力水泥</div>
<div class="f b" style="left:15px;top:56px">窑头</div>
<div class="f" style="left:711px;top:56px"><b>2</b><b>0</b><b>2</b><b>2</b><b class="p">.</b><b>6</b><b class="p">.</b><b>1</b><b>2</b></div>
<div class="f" style="left:5px;top:645px">烟气日排放总量<b class="a">*</b><b>1</b><b>0</b><b>0</b><b>0</b><b>0</b><b class="l w">m</b><b>3</b><b class="sl">/</b><b class="l">h</b></div>
<div class="f" style="left:5px;top:659px">上报单位（盖章）</div>
<div class="f" style="left:184px;top:659px">单位</div>
</body></html>
